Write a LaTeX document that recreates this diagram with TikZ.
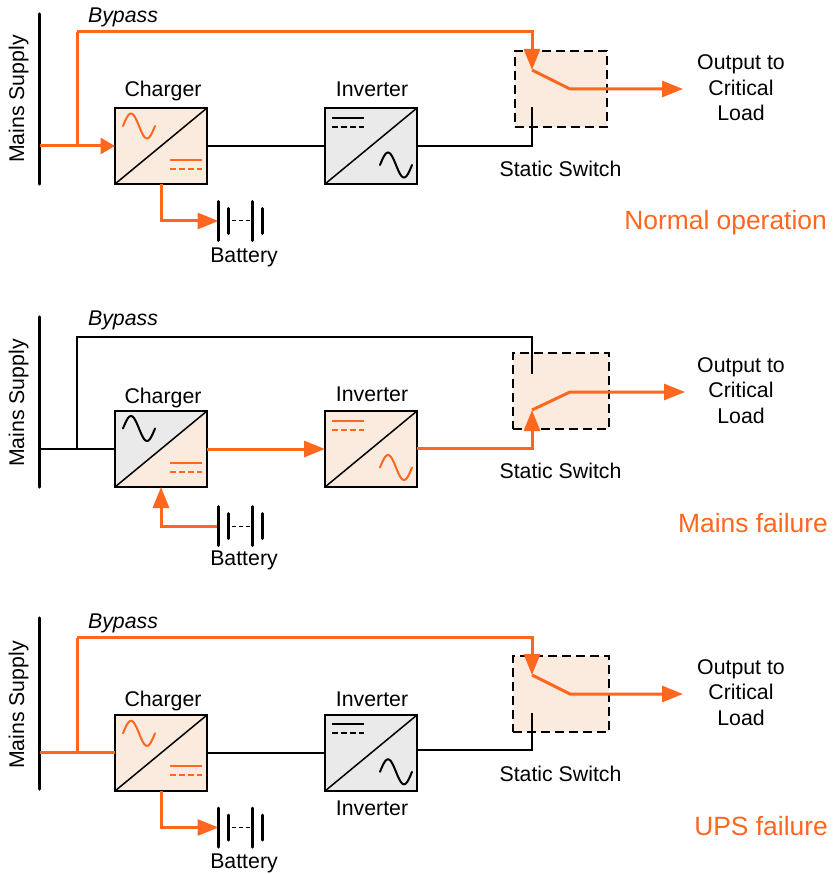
\documentclass[tikz,border=0pt]{standalone}
\usepackage{fontspec}
\setmainfont{Liberation Sans}
\usetikzlibrary{arrows.meta}
\definecolor{acorange}{HTML}{FF661E}
\definecolor{acpeach}{HTML}{FBEBDF}
\definecolor{acgrey}{HTML}{EAEAEA}
\tikzset{
    >={Triangle[length=21pt,width=16pt]},
    shorttip/.style={-{Triangle[length=14.5pt,width=16pt]}},
    lbl/.style={anchor=base,inner sep=0pt,font=\fontsize{21.3}{25.5}\selectfont},
    itlbl/.style={lbl,font=\fontsize{21.3}{25.5}\selectfont\itshape},
    modelbl/.style={anchor=base east,inner sep=0pt,text=acorange,font=\fontsize{26.4}{30}\selectfont},
    outlbl/.style={inner sep=0pt,align=center,font=\fontsize{21.3}{25.5}\selectfont},
    wire/.style={line width=2.2pt},
    live/.style={line width=3pt,draw=acorange},
    busbar/.style={line width=3.5pt,line cap=round},
    convbox/.style args={#1 and #2}{draw,line width=2.5pt,fill=#2,minimum width=92pt,minimum height=76pt,inner sep=0pt,outer sep=0pt,
        path picture={
            \fill[#1] (path picture bounding box.south west) -- (path picture bounding box.north west) -- (path picture bounding box.north east) -- cycle;
            \draw[line width=1.5pt] (path picture bounding box.south west) -- (path picture bounding box.north east);
        }},
    switchbox/.style={draw,fill=acpeach,line width=2.6pt,dash pattern=on 9pt off 5pt,inner sep=0pt,minimum height=76pt},
    sinewave/.pic={
        \draw[line width=2pt,line cap=round,pic actions] plot[domain=-16:16,samples=33,smooth] (\x,{12.5*sin(\x*11.25)});
    },
    dcmark/.pic={
        \draw[line width=2pt,pic actions] (-16,-4.5) -- (16,-4.5);
        \draw[line width=2pt,dash pattern=on 6pt off 3pt,pic actions] (-16,4.5) -- (16,4.5);
    },
    battery/.pic={
        \draw[line width=3pt,line cap=round] (0,-19.5) -- (0,19.5);
        \draw[line width=3pt,line cap=round] (10,-12.5) -- (10,12.5);
        \draw[line width=1pt,dash pattern=on 4pt off 3pt] (13,0) -- (33,0);
        \draw[line width=3pt,line cap=round] (34,-19.5) -- (34,19.5);
        \draw[line width=3pt,line cap=round] (44,-12.5) -- (44,12.5);
    }
}
\begin{document}
\begin{tikzpicture}[x=1pt,y=-1pt]
    \useasboundingbox (0,0) rectangle (834,874);

    % normal operation
    \node[lbl,rotate=90] (mains1) at (24,99) {Mains Supply};
    \node[itlbl] (bypass1) at (123,23) {Bypass};
    \node[lbl] (chargerlbl1) at (163,97) {Charger};
    \node[lbl] (inverterlbl1) at (372,97) {Inverter};
    \node[lbl] (batterylbl1) at (244,262) {Battery};
    \node[lbl] (switchlbl1) at (560.5,176.5) {Static Switch};
    \node[outlbl] (output1) at (741,88) {Output to\\Critical\\Load};
    \node[modelbl] (mode1) at (827,229.7) {Normal operation};
    \node[convbox=acpeach and acpeach] (charger1) at (161,146) {};
    \node[convbox=acgrey and acgrey] (inverter1) at (371,146) {};
    \node[switchbox,minimum width=92pt] (switch1) at (561,89) {};
    \coordinate (barA1) at (39.5,14);
    \coordinate (barB1) at (39.5,184);
    \coordinate (in1) at (39.5,146);
    \coordinate (tap1) at (77,146);
    \coordinate (byp1) at (77,32);
    \coordinate (top1) at (532,70);
    \coordinate (mid1) at (570,89);
    \coordinate (load1) at (683,89);
    \coordinate (ret1) at (532,146);
    \coordinate (bot1) at (532,107);
    \coordinate (bat1) at (218.5,221);
    \draw[busbar] (barA1) -- (barB1);
    \draw[wire] (charger1.east) -- (inverter1.west);
    \draw[wire] (inverter1.east) -- (ret1) -- (bot1);
    \draw[live,shorttip] (in1) -- (charger1.west);
    \draw[live] (tap1) -- (byp1);
    \draw[live,->] (byp1) -| (top1);
    \draw[live,->] (top1) -- (mid1) -- (load1);
    \draw[live,->] (charger1.south) |- (bat1);
    \pic at (bat1) {battery};
    \pic[draw=acorange] at (139,126) {sinewave};
    \pic[draw=acorange] at (186,164.5) {dcmark};
    \pic at (348,122.5) {dcmark};
    \pic at (396,165) {sinewave};

    % mains failure
    \node[lbl,rotate=90] (mains2) at (24,403) {Mains Supply};
    \node[itlbl] (bypass2) at (123,325) {Bypass};
    \node[lbl] (chargerlbl2) at (163,403) {Charger};
    \node[lbl] (inverterlbl2) at (372,401.5) {Inverter};
    \node[lbl] (batterylbl2) at (244,565.7) {Battery};
    \node[lbl] (switchlbl2) at (560.5,478.5) {Static Switch};
    \node[outlbl] (output2) at (741,390.2) {Output to\\Critical\\Load};
    \node[modelbl] (mode2) at (828,532.4) {Mains failure};
    \node[convbox=acgrey and acpeach] (charger2) at (161,449) {};
    \node[convbox=acpeach and acpeach] (inverter2) at (371,449) {};
    \node[switchbox,minimum width=96pt] (switch2) at (561,391) {};
    \coordinate (barA2) at (39.5,317);
    \coordinate (barB2) at (39.5,487);
    \coordinate (in2) at (39.5,449);
    \coordinate (tap2) at (77,449);
    \coordinate (byp2) at (77,337);
    \coordinate (top2) at (532,374);
    \coordinate (mid2) at (570,392);
    \coordinate (load2) at (685,392);
    \coordinate (invout2) at (417,448);
    \coordinate (ret2) at (532,448);
    \coordinate (bot2) at (532,410);
    \coordinate (bat2) at (218.5,526);
    \draw[busbar] (barA2) -- (barB2);
    \draw[wire] (in2) -- (charger2.west);
    \draw[wire] (tap2) -- (byp2) -| (top2);
    \draw[live,->] (charger2.east) -- (inverter2.west);
    \draw[live,->] (invout2) -- (ret2) -- (bot2);
    \draw[live,->] (bot2) -- (mid2) -- (load2);
    \draw[live,->] (bat2) -| (charger2.south);
    \pic at (bat2) {battery};
    \pic at (139,428.5) {sinewave};
    \pic[draw=acorange] at (186,467) {dcmark};
    \pic[draw=acorange] at (348,425) {dcmark};
    \pic[draw=acorange] at (396,467.5) {sinewave};

    % ups failure
    \node[lbl,rotate=90] (mains3) at (24,705) {Mains Supply};
    \node[itlbl] (bypass3) at (123,628) {Bypass};
    \node[lbl] (chargerlbl3) at (163,706) {Charger};
    \node[lbl] (inverterlbl3) at (372,706) {Inverter};
    \node[lbl] (inverterlblb3) at (372,815) {Inverter};
    \node[lbl] (batterylbl3) at (244,868) {Battery};
    \node[lbl] (switchlbl3) at (560.5,781) {Static Switch};
    \node[outlbl] (output3) at (741,692.6) {Output to\\Critical\\Load};
    \node[modelbl] (mode3) at (828,835.4) {UPS failure};
    \node[convbox=acpeach and acpeach] (charger3) at (161,753) {};
    \node[convbox=acgrey and acgrey] (inverter3) at (371,753) {};
    \node[switchbox,minimum width=96pt] (switch3) at (561,694) {};
    \coordinate (barA3) at (39.5,618);
    \coordinate (barB3) at (39.5,789);
    \coordinate (in3) at (39.5,752);
    \coordinate (inend3) at (115,752);
    \coordinate (tap3) at (77,752);
    \coordinate (byp3) at (77,637.5);
    \coordinate (top3) at (532,675);
    \coordinate (mid3) at (570,694);
    \coordinate (load3) at (683,694);
    \coordinate (invout3) at (417,750);
    \coordinate (ret3) at (532,750);
    \coordinate (bot3) at (532,712.5);
    \coordinate (bat3) at (218.5,827.5);
    \draw[busbar] (barA3) -- (barB3);
    \draw[wire] (charger3.east) -- (inverter3.west);
    \draw[wire] (invout3) -- (ret3) -- (bot3);
    \draw[live] (in3) -- (inend3);
    \draw[live] (tap3) -- (byp3);
    \draw[live,->] (byp3) -| (top3);
    \draw[live,->] (top3) -- (mid3) -- (load3);
    \draw[live,->] (charger3.south) |- (bat3);
    \pic at (bat3) {battery};
    \pic[draw=acorange] at (139,733.3) {sinewave};
    \pic[draw=acorange] at (186,770.7) {dcmark};
    \pic at (348,728.7) {dcmark};
    \pic at (396,771.8) {sinewave};
\end{tikzpicture}
\end{document}
